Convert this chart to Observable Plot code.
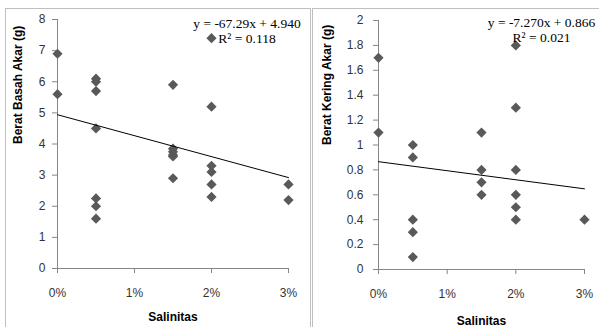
<!DOCTYPE html>
<html>
<head>
<meta charset="utf-8">
<script src="https://cdn.jsdelivr.net/npm/d3@7"></script>
<script src="https://cdn.jsdelivr.net/npm/@observablehq/plot@0.6"></script>
<style>
  body { margin: 0; background: #fff; }
  #page { position: relative; width: 599px; height: 327px; overflow: hidden; background: #fff; }
  .panel { position: absolute; box-sizing: border-box; border: 1px solid #bfbfbf; }
  .chart { position: absolute; top: 0; }
</style>
</head>
<body>
<div id="page">
  <div class="panel" style="left:5px; top:8px; width:306px; height:340px;"></div>
  <div class="panel" style="left:312px; top:8px; width:300px; height:340px;"></div>
  <div class="chart" id="left" style="left:0px;"></div>
  <div class="chart" id="right" style="left:313px;"></div>
</div>
<script>
// ---- data ----
const xTicks = [0, 1, 2, 3];
const xTickLabels = ["0%", "1%", "2%", "3%"];

const salinitasBasah = [0, 0, 0.5, 0.5, 0.5, 0.5, 0.5, 0.5, 0.5, 1.5, 1.5, 1.5, 1.5, 1.5, 1.5, 2, 2, 2, 2, 2, 2, 3, 3];
const beratBasah = [6.9, 5.6, 6.1, 6.0, 5.7, 4.5, 2.25, 2.0, 1.6, 5.9, 3.85, 3.75, 3.65, 3.6, 2.9, 7.4, 5.2, 3.3, 3.1, 2.7, 2.3, 2.7, 2.2];
const basahTicks = [0, 1, 2, 3, 4, 5, 6, 7, 8];
const trendBasahX = [0, 3];
const trendBasahY = [4.940, 2.921];
const eqBasah = "y = -67.29x + 4.940";
const r2Basah = "R² = 0.118";

const salinitasKering = [0, 0, 0.5, 0.5, 0.5, 0.5, 0.5, 1.5, 1.5, 1.5, 1.5, 2, 2, 2, 2, 2, 2, 3];
const beratKering = [1.7, 1.1, 1.0, 0.9, 0.4, 0.3, 0.1, 1.1, 0.8, 0.7, 0.6, 1.8, 1.3, 0.8, 0.6, 0.5, 0.4, 0.4];
const keringTicks = [0, 0.2, 0.4, 0.6, 0.8, 1, 1.2, 1.4, 1.6, 1.8, 2];
const trendKeringX = [0, 3];
const trendKeringY = [0.866, 0.648];
const eqKering = "y = -7.270x + 0.866";
const r2Kering = "R² = 0.021";

function makePanel(o) {
  const pts = o.xs.map((x, i) => ({x, y: o.ys[i]}));
  const trend = o.tx.map((x, i) => ({x, y: o.ty[i]}));
  const serif = "'Liberation Serif', 'Times New Roman', serif";
  return Plot.plot({
    width: o.width, height: 327,
    marginLeft: o.ml, marginRight: o.mr, marginTop: o.mt, marginBottom: o.mb,
    style: {fontFamily: "'Liberation Sans', Arial, sans-serif", fontSize: "12px", color: "#333", background: "transparent", overflow: "visible"},
    x: {domain: [0, 3]},
    y: {domain: o.yDomain},
    marks: [
      Plot.axisX({ticks: xTicks, tickFormat: d => xTickLabels[xTicks.indexOf(d)], tickSize: 5, tickPadding: 15, stroke: "#868686", label: null}),
      Plot.axisY({ticks: o.yTicks, tickFormat: d => String(+d.toFixed(1)), tickSize: 5, tickPadding: o.ypad, stroke: "#868686", label: null}),
      Plot.ruleX([0], {stroke: "#868686"}),
      Plot.ruleY([0], {stroke: "#868686"}),
      Plot.dot(pts, {x: "x", y: "y", symbol: "diamond2", fill: "#595959", stroke: "none", r: 4.6}),
      Plot.line(trend, {x: "x", y: "y", stroke: "#000", strokeWidth: 1}),
      Plot.text([o.eq], {frameAnchor: "top", dx: o.eqdx, dy: o.eqdy, lineAnchor: "bottom", fontFamily: serif, fontSize: 13.5, fill: "#000"}),
      Plot.text([o.r2], {frameAnchor: "top", dx: o.eqdx, dy: o.eqdy + 15, lineAnchor: "bottom", fontFamily: serif, fontSize: 13.5, fill: "#000"}),
      Plot.text(["Salinitas"], {frameAnchor: "bottom", dy: o.xldy, lineAnchor: "bottom", fontWeight: "bold", fontSize: 12, fill: "#000"}),
      Plot.text([o.ylabel], {frameAnchor: "left", dx: o.yldx, rotate: -90, fontWeight: "bold", fontSize: 12, fill: "#000"})
    ]
  });
}

document.getElementById("left").append(makePanel({
  xs: salinitasBasah, ys: beratBasah, tx: trendBasahX, ty: trendBasahY,
  yDomain: [0, 8], yTicks: basahTicks, ypad: 7,
  width: 310, ml: 57, mr: 22, mt: 19, mb: 59,
  eq: eqBasah, r2: r2Basah, eqdx: 74, eqdy: 8,
  ylabel: "Berat Basah Akar (g)", yldx: -39, xldy: 52
}));

document.getElementById("right").append(makePanel({
  xs: salinitasKering, ys: beratKering, tx: trendKeringX, ty: trendKeringY,
  yDomain: [0, 2], yTicks: keringTicks, ypad: 10,
  width: 286, ml: 65, mr: 15, mt: 20, mb: 58,
  eq: eqKering, r2: r2Kering, eqdx: 60, eqdy: 6,
  ylabel: "Berat Kering Akar (g)", yldx: -51, xldy: 55
}));
</script>
</body>
</html>
